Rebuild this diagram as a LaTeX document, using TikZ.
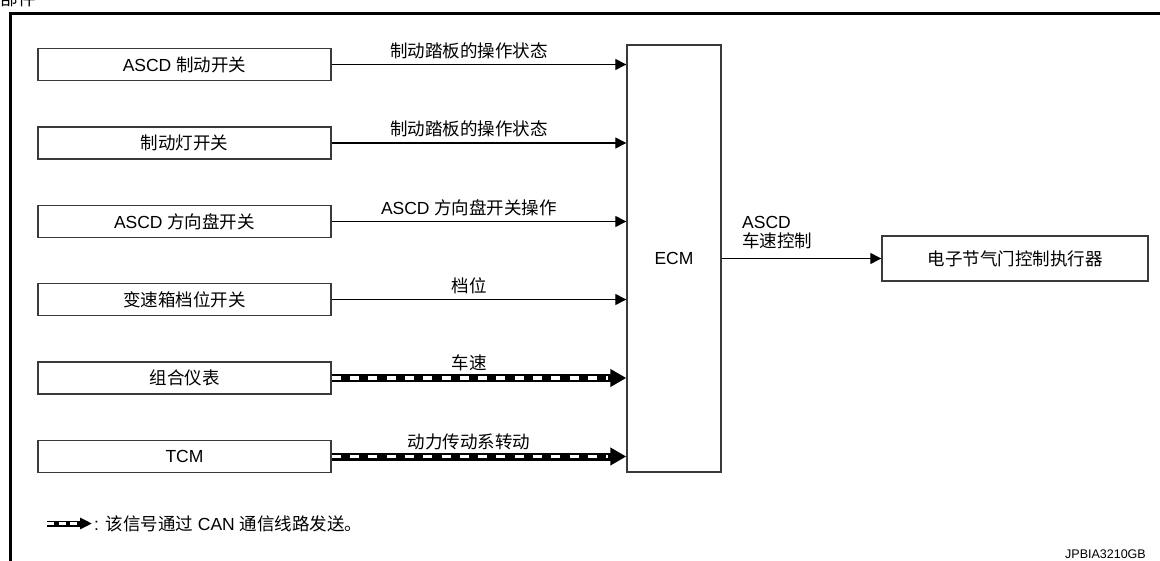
\documentclass[tikz,border=0pt]{standalone}
\usepackage{fontspec}
\setmainfont{Liberation Sans}
\newfontfamily\cjk{Noto Sans CJK SC}
\usetikzlibrary{arrows.meta}
\definecolor{boxgray}{HTML}{3A3A3A}
\newcommand\fsz{\fontsize{17.5}{21}\selectfont}
\tikzset{
  inbox/.style={draw=boxgray, line width=1.4, minimum width=293, minimum height=32, inner sep=0, font=\fsz},
  bigbox/.style={draw=boxgray, line width=1.4, inner sep=0, font=\fsz},
  sig/.style={line width=1.3, -{Triangle[length=11,width=11]}},
  canband/.style={line width=8, -{Triangle[length=16,width=17]}},
  candash/.style={white, line width=3.5, dash pattern=on 9 off 9.3, shorten >=18},
  lbl/.style={font=\fsz, inner sep=0},
}
\begin{document}
\begin{tikzpicture}[x=1pt,y=-1pt]
\useasboundingbox (0,0) rectangle (1160,561);
% frame
\draw[line width=3] (1163,13.5) -- (10.7,13.5) -- (10.7,564);
\node[lbl, anchor=base east] (cut) at (36,6) {\cjk 部件};
% input boxes
\node[inbox] (b1) at (184.5,64.5) {ASCD {\cjk 制动开关}};
\node[inbox] (b2) at (184.5,143) {\cjk 制动灯开关};
\node[inbox] (b3) at (184.5,221.5) {ASCD {\cjk 方向盘开关}};
\node[inbox] (b4) at (184.5,299.5) {\cjk 变速箱档位开关};
\node[inbox] (b5) at (184.5,378) {\cjk 组合仪表};
\node[inbox] (b6) at (184.5,456.5) {TCM};
% ECM
\node[bigbox, minimum width=94, minimum height=427] (ecm) at (674,258.5) {ECM};
% actuator
\node[bigbox, minimum width=266, minimum height=45] (act) at (1015,258.5) {\cjk 电子节气门控制执行器};
% signal arrows
\draw[sig] (b1.east) -- (ecm.west |- b1.east);
\draw[sig] (b2.east) -- (ecm.west |- b2.east);
\draw[sig] (b3.east) -- (ecm.west |- b3.east);
\draw[sig] (b4.east) -- (ecm.west |- b4.east);
\draw[canband] (b5.east) -- (ecm.west |- b5.east);
\draw[candash] (b5.east) -- (ecm.west |- b5.east);
\draw[canband] (b6.east) -- (ecm.west |- b6.east);
\draw[candash] (b6.east) -- (ecm.west |- b6.east);
\draw[sig] (ecm.east |- act.west) -- (act.west);
% labels
\node[lbl] (l1) at (469,50.5) {\cjk 制动踏板的操作状态};
\node[lbl] (l2) at (469,129) {\cjk 制动踏板的操作状态};
\node[lbl] (l3) at (469,207.5) {ASCD {\cjk 方向盘开关操作}};
\node[lbl] (l4) at (469,285.5) {\cjk 档位};
\node[lbl] (l5) at (469,363) {\cjk 车速};
\node[lbl] (l6) at (469,441.5) {\cjk 动力传动系转动};
\node[lbl, anchor=west] (l7a) at (742,222) {ASCD};
\node[lbl, anchor=west] (l7b) at (742,241) {\cjk 车速控制};
% legend
\coordinate (lg1) at (47,523.5);
\coordinate (lg2) at (92,523.5);
\draw[line width=6, -{Triangle[length=12,width=11]}] (lg1) -- (lg2);
\draw[white, line width=2.6, dash pattern=on 7 off 4.5, shorten >=13] (lg1) -- (lg2);
\node[lbl, anchor=west] (lgt) at (94,524) {: {\cjk 该信号通过} CAN {\cjk 通信线路发送。}};
\node[font=\fontsize{12.5}{15}\selectfont, inner sep=0, anchor=east] (id) at (1146,554) {JPBIA3210GB};
\end{tikzpicture}
\end{document}
